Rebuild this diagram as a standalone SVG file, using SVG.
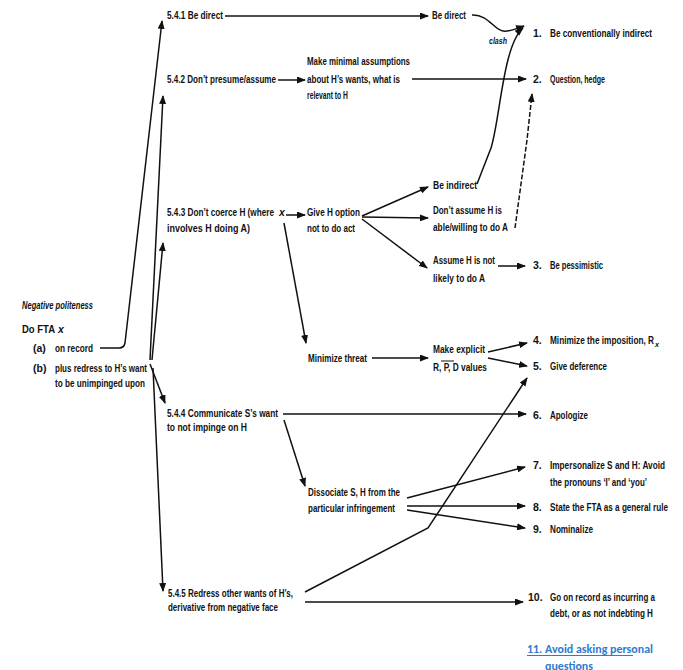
<svg xmlns="http://www.w3.org/2000/svg" width="683" height="670" viewBox="0 0 683 670">
<style>
.t{font-family:"Liberation Sans Narrow","Liberation Sans",Arial,sans-serif;font-size:10.5px;font-weight:bold;fill:#111}
.i{font-style:italic}
.sm{font-size:9px}
.sub{font-size:7px}
.c{fill:none;stroke:#111;stroke-width:1.5}
.a{marker-end:url(#ah)}
.d{stroke-dasharray:5 2}
.lk{font-family:Carlito,"Open Sans","Liberation Sans",sans-serif;font-size:11px;font-weight:bold;fill:#2e7bd0}
</style>
<defs>
<marker id="ah" markerUnits="userSpaceOnUse" markerWidth="9" markerHeight="7" refX="8" refY="3.5" orient="auto">
<path d="M0,0 L9,3.5 L0,7 z" fill="#111"/>
</marker>
</defs>
<rect width="683" height="670" fill="#fff"/>
<g id="connectors">
<path class="c a" d="M100,348 L119,348 Q124,348 125,343 L162,21"/>
<path class="c a" d="M150,360 L163,96"/>
<path class="c a" d="M152,360 L163,243"/>
<path class="c a" d="M150,364 L165,403"/>
<path class="c a" d="M153,368 L163,591"/>
<path class="c a" d="M225,16 L428,16"/>
<path class="c a" d="M472,15 C488,14 494,30 503,31 C510,32 515,29 524,26"/>
<path class="c a" d="M278,80 L305,80"/>
<path class="c a" d="M412,79 L526,79"/>
<path class="c a" d="M477,184 L491,148 C500,120 503,45 523,28"/>
<path class="c a d" d="M515,228 L527,140 L532,94"/>
<path class="c a" d="M286,215 L305,215"/>
<path class="c a" d="M362,216 L428,187"/>
<path class="c a" d="M362,217 L428,218"/>
<path class="c a" d="M362,219 L427,268"/>
<path class="c a" d="M498,266 L525,266"/>
<path class="c a" d="M284,223 L306,343"/>
<path class="c a" d="M372,358 L428,358"/>
<path class="c a" d="M488,352 L527,343"/>
<path class="c a" d="M488,358 L527,366"/>
<path class="c a" d="M283,414 L526,414"/>
<path class="c a" d="M284,420 L305,486"/>
<path class="c a" d="M407,498 L525,467"/>
<path class="c a" d="M407,506 L525,506"/>
<path class="c a" d="M407,510 L525,528"/>
<path class="c a" d="M305,592 L428,528 L527,378"/>
<path class="c a" d="M305,602 L523,602"/>
</g>
<g id="n541"><text class="t" x="167" y="19" textLength="56" lengthAdjust="spacingAndGlyphs">5.4.1 Be direct</text></g>
<g id="bedirect"><text class="t" x="432" y="19" textLength="34" lengthAdjust="spacingAndGlyphs">Be direct</text></g>
<g id="clash"><text class="t i sm" x="489" y="44" textLength="18" lengthAdjust="spacingAndGlyphs">clash</text></g>
<g id="r1"><text class="t" x="533" y="37">1.</text><text class="t" x="550" y="37" textLength="102" lengthAdjust="spacingAndGlyphs">Be conventionally indirect</text></g>
<g id="n542"><text class="t" x="167" y="83" textLength="109" lengthAdjust="spacingAndGlyphs">5.4.2 Don’t presume/assume</text></g>
<g id="minassume">
<text class="t" x="307" y="65" textLength="103" lengthAdjust="spacingAndGlyphs">Make minimal assumptions</text>
<text class="t" x="307" y="83" textLength="93" lengthAdjust="spacingAndGlyphs">about H’s wants, what is</text>
<text class="t" x="307" y="99" textLength="41" lengthAdjust="spacingAndGlyphs">relevant to H</text>
</g>
<g id="r2"><text class="t" x="533" y="83">2.</text><text class="t" x="550" y="83" textLength="55" lengthAdjust="spacingAndGlyphs">Question, hedge</text></g>
<g id="n543">
<text class="t" x="167" y="216" textLength="107" lengthAdjust="spacingAndGlyphs">5.4.3 Don’t coerce H (where</text>
<text class="t i" x="279" y="216">x</text>
<text class="t" x="167" y="232" textLength="83" lengthAdjust="spacingAndGlyphs">involves H doing A)</text>
</g>
<g id="giveoption">
<text class="t" x="307" y="216" textLength="53" lengthAdjust="spacingAndGlyphs">Give H option</text>
<text class="t" x="307" y="232" textLength="48" lengthAdjust="spacingAndGlyphs">not to do act</text>
</g>
<g id="beindirect"><text class="t" x="433" y="189" textLength="44" lengthAdjust="spacingAndGlyphs">Be indirect</text></g>
<g id="dontassume">
<text class="t" x="433" y="214" textLength="69" lengthAdjust="spacingAndGlyphs">Don’t assume H is</text>
<text class="t" x="433" y="231" textLength="75" lengthAdjust="spacingAndGlyphs">able/willing to do A</text>
</g>
<g id="assumenot">
<text class="t" x="433" y="264" textLength="62" lengthAdjust="spacingAndGlyphs">Assume H is not</text>
<text class="t" x="433" y="282" textLength="52" lengthAdjust="spacingAndGlyphs">likely to do A</text>
</g>
<g id="r3"><text class="t" x="533" y="269">3.</text><text class="t" x="550" y="269" textLength="53" lengthAdjust="spacingAndGlyphs">Be pessimistic</text></g>
<g id="root">
<text class="t i" x="22" y="309" textLength="71" lengthAdjust="spacingAndGlyphs">Negative politeness</text>
<text class="t" x="22" y="333" textLength="33" lengthAdjust="spacingAndGlyphs">Do FTA</text>
<text class="t i" x="58" y="333">x</text>
<text class="t" x="33" y="352">(a)</text>
<text class="t" x="55" y="352" textLength="38" lengthAdjust="spacingAndGlyphs">on record</text>
<text class="t" x="33" y="372">(b)</text>
<text class="t" x="55" y="372" textLength="92" lengthAdjust="spacingAndGlyphs">plus redress to H’s want</text>
<text class="t" x="55" y="387" textLength="90" lengthAdjust="spacingAndGlyphs">to be unimpinged upon</text>
</g>
<g id="minthreat"><text class="t" x="308" y="362" textLength="59" lengthAdjust="spacingAndGlyphs">Minimize threat</text></g>
<g id="makeexplicit">
<text class="t" x="433" y="353" textLength="52" lengthAdjust="spacingAndGlyphs">Make explicit</text>
<text class="t" x="433" y="371" textLength="54" lengthAdjust="spacingAndGlyphs">R, P, D values</text>
<line x1="441" y1="361" x2="454" y2="361" stroke="#111" stroke-width="1"/>
</g>
<g id="r4"><text class="t" x="533" y="344">4.</text><text class="t" x="550" y="344" textLength="104" lengthAdjust="spacingAndGlyphs">Minimize the imposition, R</text><text class="t i sub" x="655" y="347">x</text></g>
<g id="r5"><text class="t" x="533" y="370">5.</text><text class="t" x="550" y="370" textLength="57" lengthAdjust="spacingAndGlyphs">Give deference</text></g>
<g id="n544">
<text class="t" x="167" y="417" textLength="111" lengthAdjust="spacingAndGlyphs">5.4.4 Communicate S’s want</text>
<text class="t" x="167" y="431" textLength="80" lengthAdjust="spacingAndGlyphs">to not impinge on H</text>
</g>
<g id="r6"><text class="t" x="533" y="419">6.</text><text class="t" x="550" y="419" textLength="38" lengthAdjust="spacingAndGlyphs">Apologize</text></g>
<g id="dissociate">
<text class="t" x="308" y="496" textLength="92" lengthAdjust="spacingAndGlyphs">Dissociate S, H from the</text>
<text class="t" x="308" y="512" textLength="87" lengthAdjust="spacingAndGlyphs">particular infringement</text>
</g>
<g id="r7">
<text class="t" x="533" y="469">7.</text>
<text class="t" x="550" y="469" textLength="115" lengthAdjust="spacingAndGlyphs">Impersonalize S and H: Avoid</text>
<text class="t" x="550" y="486" textLength="97" lengthAdjust="spacingAndGlyphs">the pronouns ‘I’ and ‘you’</text>
</g>
<g id="r8"><text class="t" x="533" y="511">8.</text><text class="t" x="550" y="511" textLength="118" lengthAdjust="spacingAndGlyphs">State the FTA as a general rule</text></g>
<g id="r9"><text class="t" x="533" y="533">9.</text><text class="t" x="550" y="533" textLength="43" lengthAdjust="spacingAndGlyphs">Nominalize</text></g>
<g id="n545">
<text class="t" x="168" y="597" textLength="125" lengthAdjust="spacingAndGlyphs">5.4.5 Redress other wants of H’s,</text>
<text class="t" x="168" y="611" textLength="110" lengthAdjust="spacingAndGlyphs">derivative from negative face</text>
</g>
<g id="r10">
<text class="t" x="528" y="601">10.</text>
<text class="t" x="550" y="601" textLength="105" lengthAdjust="spacingAndGlyphs">Go on record as incurring a</text>
<text class="t" x="550" y="617" textLength="103" lengthAdjust="spacingAndGlyphs">debt, or as not indebting H</text>
</g>
<g id="r11">
<text class="lk" x="527" y="653" textLength="126" lengthAdjust="spacingAndGlyphs">11. Avoid asking personal</text>
<line x1="527" y1="655.5" x2="633" y2="655.5" stroke="#2e7bd0" stroke-width="1"/>
<text class="lk" x="545" y="670" textLength="48" lengthAdjust="spacingAndGlyphs">questions</text>
</g>
</svg>
